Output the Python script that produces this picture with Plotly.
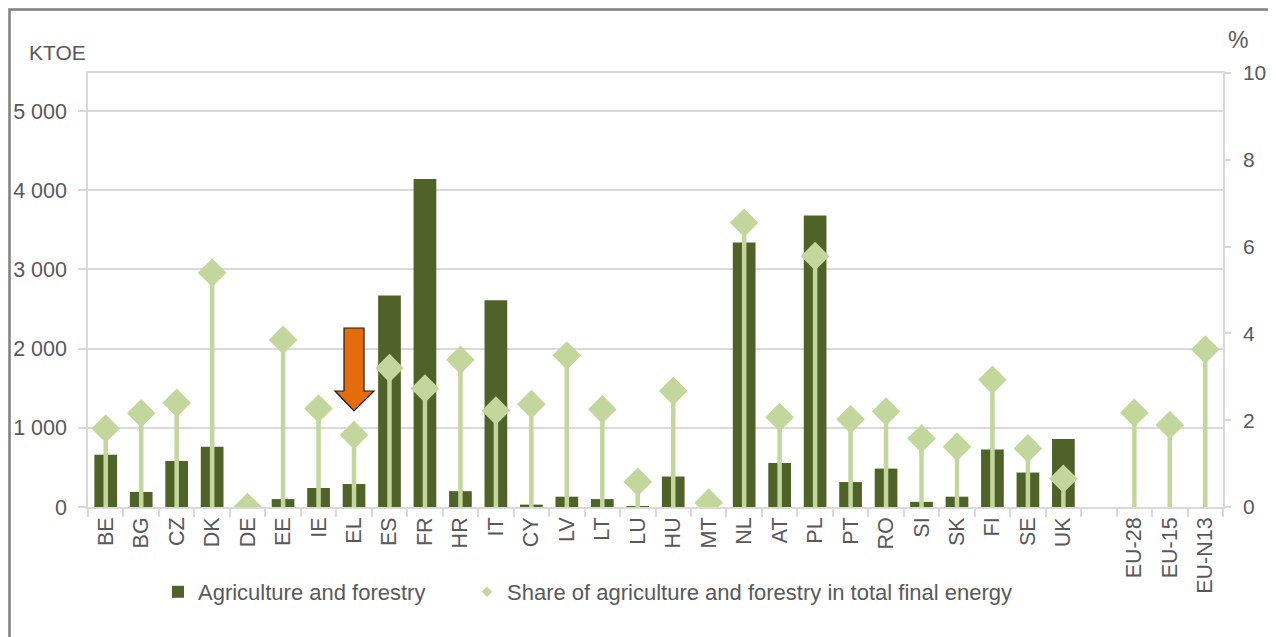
import plotly.graph_objects as go

countries = ["BE", "BG", "CZ", "DK", "DE", "EE", "IE", "EL", "ES", "FR", "HR", "IT", "CY", "LV",
             "LT", "LU", "HU", "MT", "NL", "AT", "PL", "PT", "RO", "SI", "SK", "FI", "SE", "UK",
             " ", "EU-28", "EU-15", "EU-N13"]

agri_ktoe = [660, 190, 580, 760, 0, 100, 240, 290, 2670, 4140, 200, 2610, 30, 130,
             100, 10, 385, 0, 3340, 555, 3680, 315, 485, 65, 130, 725, 435, 860,
             None, None, None, None]

share_pct = [1.81, 2.16, 2.40, 5.40, 0.0, 3.85, 2.27, 1.66, 3.20, 2.73, 3.39, 2.22, 2.37, 3.49,
             2.25, 0.58, 2.67, 0.10, 6.55, 2.07, 5.78, 2.02, 2.20, 1.58, 1.39, 2.93, 1.35, 0.65,
             None, 2.17, 1.89, 3.63]

left_ticks = [0, 1000, 2000, 3000, 4000, 5000]
right_ticks = [0, 2, 4, 6, 8, 10]

DARK = "#4F6228"
LIGHT = "#C3D69B"
TXT = "#595959"
GRID = "#D9D9D9"
FONT = "Liberation Sans, Arial, sans-serif"

OFF = 8  # page body margin
W, H = 1276 - OFF, 637 - OFF
L, T = 88 - OFF, 73 - OFF
R = W - (1223 - OFF)
B = H - (507 - OFF)
PW, PH = W - L - R, H - T - B


def px(sx):
    return (sx - OFF - L) / PW


def py(sy):
    return (H - B - (sy - OFF)) / PH


fig = go.Figure()

fig.add_trace(go.Bar(
    x=countries, y=agri_ktoe, name="Agriculture and forestry",
    marker=dict(color=DARK, line=dict(width=0)), yaxis="y", legend="legend",
))

stem_minus = [v if v is not None else 0 for v in share_pct]
fig.add_trace(go.Scatter(
    x=countries, y=share_pct, mode="markers", yaxis="y2", showlegend=False,
    name="Share of agriculture and forestry in total final energy",
    marker=dict(symbol="diamond", size=22, color=LIGHT),
    error_y=dict(type="data", symmetric=False, array=[0] * len(share_pct),
                 arrayminus=stem_minus, thickness=4.5, width=0, color=LIGHT),
))

# legend-only entry with small diamond
fig.add_trace(go.Scatter(
    x=[None], y=[None], mode="markers", yaxis="y2", legend="legend2",
    name="Share of agriculture and forestry in total final energy",
    marker=dict(symbol="diamond", size=8, color=LIGHT),
))

# orange block arrow above EL (positioned from the reference layout, in paper units)
pts = [(344, 328), (364, 328), (364, 391), (374, 391), (354, 411), (335, 391), (344, 391)]
path = "M " + " L ".join(f"{px(a):.5f},{py(b):.5f}" for a, b in pts) + " Z"
fig.add_shape(type="path", path=path, xref="paper", yref="paper",
              fillcolor="#E46C0A", line=dict(color="#1a1a1a", width=1.2), layer="above")

# outer frame
fig.add_shape(type="rect", xref="paper", yref="paper",
              x0=px(9.5), x1=px(1273), y0=py(660), y1=py(9.5),
              line=dict(color="#7f7f7f", width=2.5), fillcolor="rgba(0,0,0,0)")

fig.add_annotation(text="KTOE", xref="paper", yref="paper", x=px(27), y=py(52),
                   xanchor="left", yanchor="middle", showarrow=False,
                   font=dict(size=21, color=TXT, family=FONT))
fig.add_annotation(text="%", xref="paper", yref="paper", x=px(1238), y=py(40),
                   xanchor="center", yanchor="middle", showarrow=False,
                   font=dict(size=23, color=TXT, family=FONT))

leg_common = dict(orientation="h", yanchor="middle", xanchor="left",
                  font=dict(size=22, color=TXT, family=FONT), bgcolor="rgba(0,0,0,0)")

fig.update_layout(
    width=W, height=H,
    margin=dict(l=L, r=R, t=T, b=B, pad=0, autoexpand=False),
    paper_bgcolor="white", plot_bgcolor="white",
    font=dict(family=FONT, size=21, color=TXT),
    separators=", ",
    bargap=0.36,
    showlegend=True,
    legend=dict(x=px(158), y=py(592), **leg_common),
    legend2=dict(x=px(467), y=py(592), **leg_common),
    xaxis=dict(
        type="category", categoryorder="array", categoryarray=countries,
        tickson="boundaries", ticks="outside", ticklen=8, tickcolor=GRID, tickwidth=1.5,
        tickangle=-90, showline=True, linecolor=GRID, linewidth=1.5, mirror=True,
        showgrid=False, tickfont=dict(size=21.5, color=TXT), range=[-0.5, 31.5],
    ),
    yaxis=dict(
        range=[0, 5480], tickvals=left_ticks, tickformat=",d",
        showgrid=True, gridcolor=GRID, gridwidth=1.5,
        ticks="outside", ticklen=8, tickcolor=GRID, tickwidth=1.5,
        showline=True, linecolor=GRID, linewidth=1.5, zeroline=False,
        ticklabelstandoff=7, tickfont=dict(size=21.5, color=TXT),
    ),
    yaxis2=dict(
        range=[0, 10], tickvals=right_ticks, overlaying="y", side="right",
        showgrid=False, zeroline=False, ticks="outside", ticklen=6, tickcolor=GRID, tickwidth=1.5,
        showline=True, linecolor=GRID, linewidth=1.5,
        ticklabelstandoff=8, tickfont=dict(size=21, color=TXT),
    ),
)

fig.write_html("out.html")
